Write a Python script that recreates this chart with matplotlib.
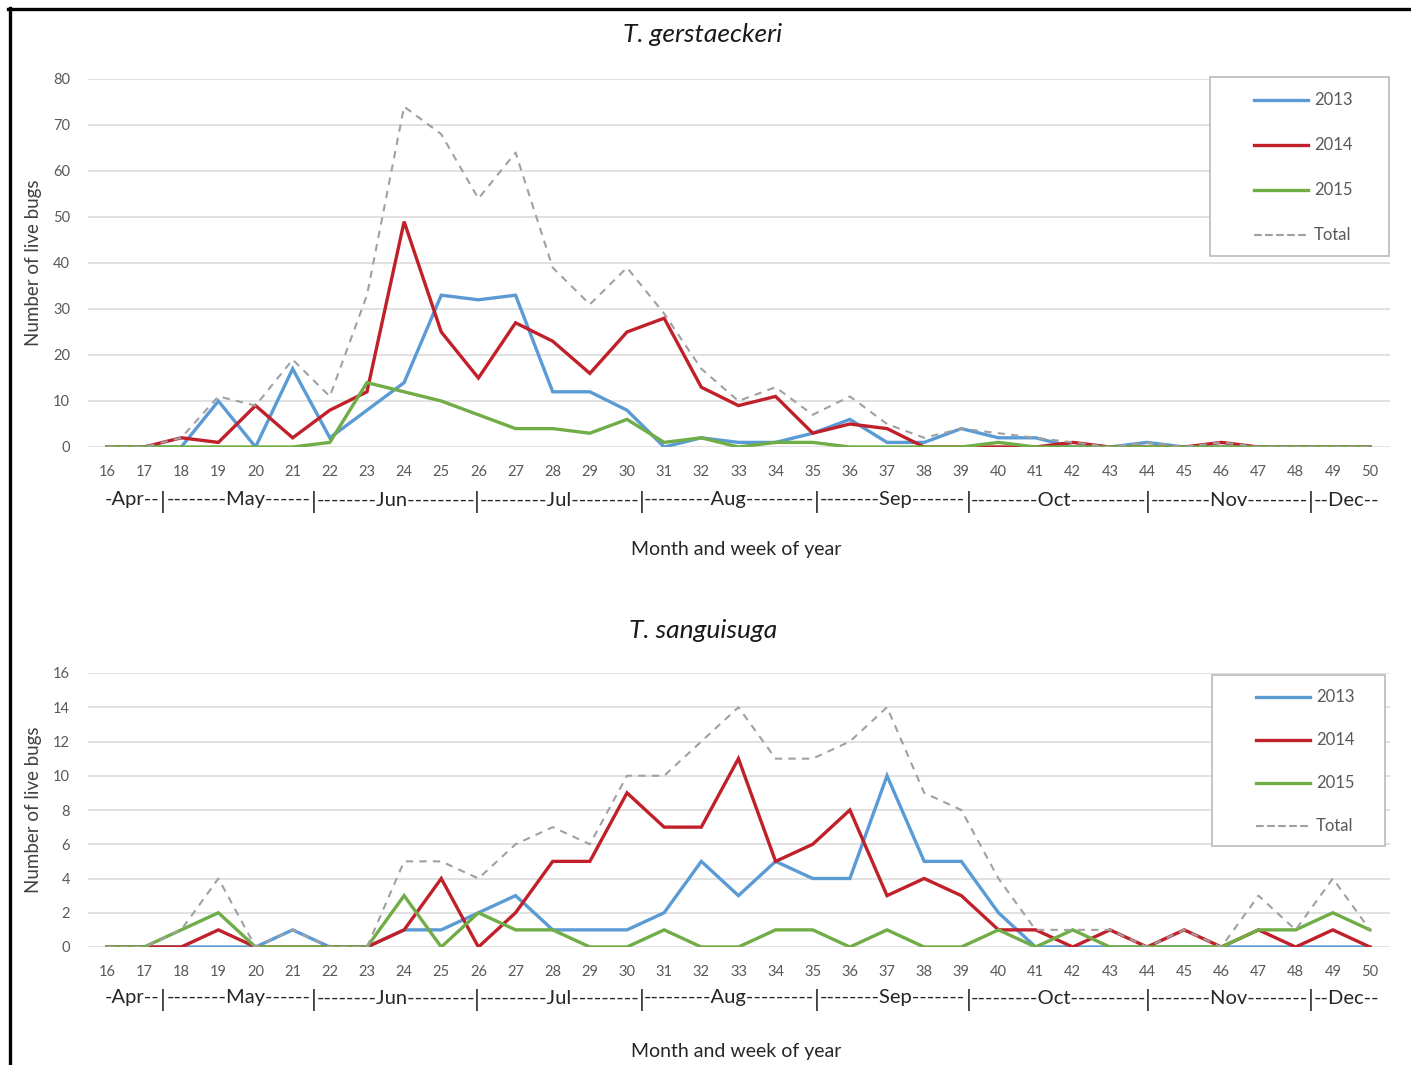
import matplotlib
matplotlib.use("Agg")
import matplotlib.pyplot as plt
from matplotlib.patches import Rectangle
from matplotlib.lines import Line2D
import matplotlib.transforms as mtransforms

plt.rcParams["font.family"] = ["Lato", "DejaVu Sans"]

# ---- data -------------------------------------------------------------
weeks = list(range(16, 51))

gerst_2013 = [0, 0, 0, 10, 0, 17, 2, 8, 14, 33, 32, 33, 12, 12, 8, 0, 2, 1, 1, 3,
              6, 1, 1, 4, 2, 2, 0, 0, 1, 0, 0, 0, 0, 0, 0]
gerst_2014 = [0, 0, 2, 1, 9, 2, 8, 12, 49, 25, 15, 27, 23, 16, 25, 28, 13, 9, 11, 3,
              5, 4, 0, 0, 0, 0, 1, 0, 0, 0, 1, 0, 0, 0, 0]
gerst_2015 = [0, 0, 0, 0, 0, 0, 1, 14, 12, 10, 7, 4, 4, 3, 6, 1, 2, 0, 1, 1,
              0, 0, 0, 0, 1, 0, 0, 0, 0, 0, 0, 0, 0, 0, 0]
gerst_total = [0, 0, 2, 11, 9, 19, 11, 33, 74, 68, 54, 64, 39, 31, 39, 29, 17, 10, 13, 7,
               11, 5, 2, 4, 3, 2, 1, 0, 1, 0, 1, 0, 0, 0, 0]

sang_2013 = [0, 0, 0, 0, 0, 1, 0, 0, 1, 1, 2, 3, 1, 1, 1, 2, 5, 3, 5, 4,
             4, 10, 5, 5, 2, 0, 0, 0, 0, 0, 0, 0, 0, 0, 0]
sang_2014 = [0, 0, 0, 1, 0, 0, 0, 0, 1, 4, 0, 2, 5, 5, 9, 7, 7, 11, 5, 6,
             8, 3, 4, 3, 1, 1, 0, 1, 0, 1, 0, 1, 0, 1, 0]
sang_2015 = [0, 0, 1, 2, 0, 0, 0, 0, 3, 0, 2, 1, 1, 0, 0, 1, 0, 0, 1, 1,
             0, 1, 0, 0, 1, 0, 1, 0, 0, 0, 0, 1, 1, 2, 1]
sang_total = [0, 0, 1, 4, 0, 1, 0, 0, 5, 5, 4, 6, 7, 6, 10, 10, 12, 14, 11, 11,
              12, 14, 9, 8, 4, 1, 1, 1, 0, 1, 0, 3, 1, 4, 1]

series_names = ["2013", "2014", "2015", "Total"]
titles = ["T. gerstaeckeri", "T. sanguisuga"]

# month strip under the week numbers: (text, left separator, right separator)
month_segments = [
    ("-Apr--", 15.84, 17.51),
    ("--------May------", 17.51, 21.58),
    ("--------Jun---------", 21.58, 25.97),
    ("---------Jul---------", 25.97, 30.39),
    ("---------Aug---------", 30.39, 35.10),
    ("--------Sep-------", 35.10, 39.20),
    ("---------Oct----------", 39.20, 44.03),
    ("--------Nov--------", 44.03, 48.40),
    ("--Dec--", 48.40, 50.27),
]

# ---- styling ----------------------------------------------------------
colors = ["#5B9BD5", "#C0202A", "#70AD47", "#A0A0A0"]
W, H = 1411, 1065
fig = plt.figure(figsize=(W / 100, H / 100), dpi=100)


def fx(px):
    return px / W


def fy(py):
    return 1 - py / H


panels = [
    dict(data=[gerst_2013, gerst_2014, gerst_2015, gerst_total], ymax=80, ystep=10,
         ax_top=79, ax_bot=447, title_y=35, month_y=500, xlabel_y=549,
         legend_box=(1210, 77, 1389, 256)),
    dict(data=[sang_2013, sang_2014, sang_2015, sang_total], ymax=16, ystep=2,
         ax_top=673, ax_bot=947, title_y=630, month_y=998, xlabel_y=1052,
         legend_box=(1212, 675, 1385, 846)),
]

ax_left, ax_right = 88, 1390
x0, x1 = 15.49, 50.54
month_fs = 14.5

for p, title in zip(panels, titles):
    ax = fig.add_axes([fx(ax_left), fy(p["ax_bot"]),
                       fx(ax_right - ax_left), (p["ax_bot"] - p["ax_top"]) / H])
    ax.set_xlim(x0, x1)
    ax.set_ylim(0, p["ymax"])
    ax.set_yticks(range(0, p["ymax"] + 1, p["ystep"]))
    ax.set_xticks(weeks)
    ax.set_xticklabels([str(w) for w in weeks])
    ax.tick_params(axis="both", length=0, labelsize=10.5, labelcolor="#595959")
    ax.tick_params(axis="x", pad=13)
    ax.tick_params(axis="y", pad=13)
    for s in ax.spines.values():
        s.set_visible(False)
    ax.grid(axis="y", color="#D9D9D9", lw=1.1)
    ax.set_axisbelow(True)
    ax.set_ylabel("Number of live bugs", fontsize=13.5, color="#404040")
    ax.yaxis.set_label_coords((42 - ax_left) / (ax_right - ax_left), 0.5)

    handles = []
    for vals, name, c in zip(p["data"], series_names, colors):
        if name == "Total":
            ln, = ax.plot(weeks, vals, color=c, lw=1.5, ls=(0, (3.5, 3)), zorder=5)
        else:
            ln, = ax.plot(weeks, vals, color=c, lw=2.4, zorder=4, solid_joinstyle="miter")
        handles.append(ln)

    # title
    fig.text(fx(703), fy(p["title_y"]), title, ha="center", va="center",
             fontsize=19, style="italic", color="#1a1a1a")

    # month strip
    trans = mtransforms.blended_transform_factory(ax.transData, fig.transFigure)
    ypos = fy(p["month_y"])
    n = len(month_segments)
    for i, (txt, a, b) in enumerate(month_segments):
        if i == 0:
            ax.text(b - 0.1, ypos, txt, transform=trans, ha="right", va="center",
                    fontsize=month_fs, color="#262626")
        elif i == n - 1:
            ax.text(a + 0.1, ypos, txt, transform=trans, ha="left", va="center",
                    fontsize=month_fs, color="#262626")
        else:
            ax.text((a + b) / 2, ypos, txt, transform=trans, ha="center", va="center",
                    fontsize=month_fs, color="#262626")
        if i > 0:
            ax.text(a, ypos - 0.002, "|", transform=trans, ha="center", va="center",
                    fontsize=month_fs + 2, color="#262626")

    fig.text(fx(736), fy(p["xlabel_y"]), "Month and week of year",
             ha="center", va="center", fontsize=14, color="#262626")

    # legend frame and entries
    lx0, ly0, lx1, ly1 = p["legend_box"]
    fig.patches.append(Rectangle((fx(lx0), fy(ly1)), fx(lx1 - lx0), (ly1 - ly0) / H,
                                 transform=fig.transFigure, fill=True, fc="white",
                                 ec="#BFBFBF", lw=1.3, zorder=10))
    ny = 4
    row_h = (ly1 - ly0) / ny
    for k, (h, name) in enumerate(zip(handles, series_names)):
        yy = fy(ly0 + row_h * (k + 0.5) + 1)
        fig.lines.append(Line2D([fx(lx0 + 44), fx(lx0 + 98)], [yy, yy],
                                transform=fig.transFigure, color=h.get_color(),
                                lw=h.get_linewidth(), ls=h.get_linestyle(), zorder=11))
        fig.text(fx(lx0 + 104), yy, name, ha="left", va="center", fontsize=12,
                 color="#595959", zorder=12)

# outer frame (left and top edges)
fig.lines.append(Line2D([fx(9.5), fx(9.5)], [0, fy(8)], transform=fig.transFigure,
                        color="black", lw=2.4))
fig.lines.append(Line2D([fx(8.3), 1], [fy(8.5), fy(8.5)], transform=fig.transFigure,
                        color="black", lw=2.4))

fig.savefig("out.png", dpi=100)
